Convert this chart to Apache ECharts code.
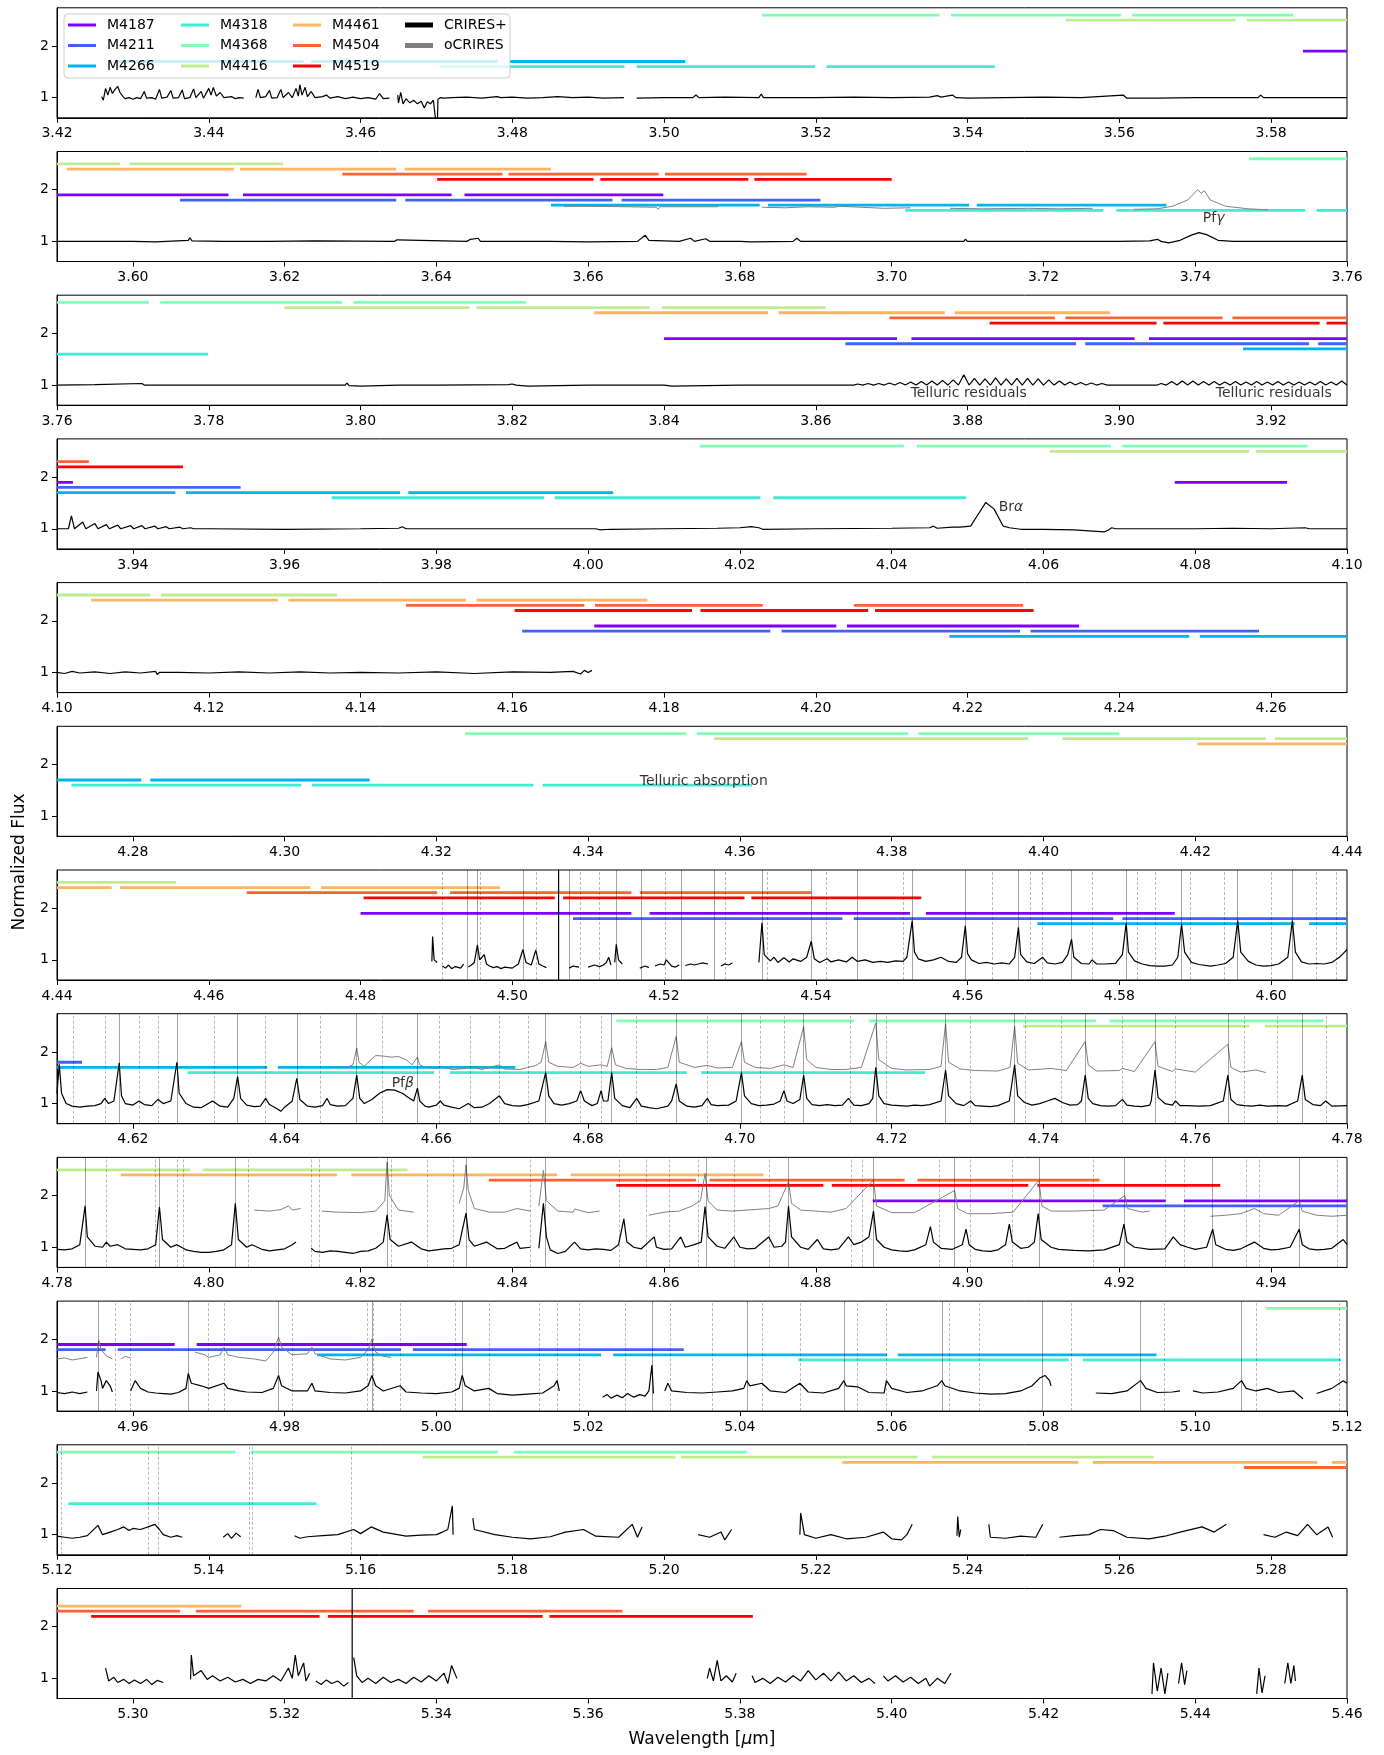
<!DOCTYPE html>
<html><head><meta charset="utf-8">
<script src="https://cdn.jsdelivr.net/npm/echarts@6/dist/echarts.min.js"></script>
<style>html,body{margin:0;padding:0;background:#fff}#chart{width:1384px;height:1755px}</style>
</head><body><div id="chart"></div><script>
const G = ['-', '-'];
const panelStarts = [3.42, 3.59, 3.76, 3.93, 4.10, 4.27, 4.44, 4.61, 4.78, 4.95, 5.12, 5.29];
const panelSpan = 0.17;
const tickLabels = [
  [3.42,3.44,3.46,3.48,3.50,3.52,3.54,3.56,3.58],
  [3.60,3.62,3.64,3.66,3.68,3.70,3.72,3.74,3.76],
  [3.76,3.78,3.80,3.82,3.84,3.86,3.88,3.90,3.92],
  [3.94,3.96,3.98,4.00,4.02,4.04,4.06,4.08,4.10],
  [4.10,4.12,4.14,4.16,4.18,4.20,4.22,4.24,4.26],
  [4.28,4.30,4.32,4.34,4.36,4.38,4.40,4.42,4.44],
  [4.44,4.46,4.48,4.50,4.52,4.54,4.56,4.58,4.60],
  [4.62,4.64,4.66,4.68,4.70,4.72,4.74,4.76,4.78],
  [4.78,4.80,4.82,4.84,4.86,4.88,4.90,4.92,4.94],
  [4.96,4.98,5.00,5.02,5.04,5.06,5.08,5.10,5.12],
  [5.12,5.14,5.16,5.18,5.20,5.22,5.24,5.26,5.28],
  [5.30,5.32,5.34,5.36,5.38,5.40,5.42,5.44,5.46]
];
const yTicks = [1, 2];

const settings = ['M4187','M4211','M4266','M4318','M4368','M4416','M4461','M4504','M4519'];
const settingColors = ['#8000ff','#4062fa','#00b4ec','#40ecd4','#80ffb4','#bfec8e','#ffb462','#ff6232','#ff0000'];
const settingLevels = [1.9, 1.8, 1.7, 1.6, 2.6, 2.5, 2.4, 2.3, 2.2];

const segM4187 = [[3.5842,3.6126],[3.6145,3.642],[3.6437,3.6699],[3.84,3.8707],[3.8726,3.902],[3.9039,3.9321],[4.0773,4.0921],[4.1708,4.2027],[4.2041,4.2347],[4.48,4.5157],[4.5181,4.5524],[4.5545,4.5873],[4.8875,4.9261],[4.9285,4.9655],[4.9684,5.004]];
const segM4211 = [[3.6062,3.6347],[3.6359,3.6632],[3.6644,3.6906],[3.8639,3.8943],[3.8955,3.925],[3.9262,3.9542],[4.1613,4.194],[4.1955,4.2269],[4.2283,4.2584],[4.508,4.5435],[4.545,4.5792],[4.5804,4.6133],[4.9178,4.9564],[4.958,4.9953],[4.9969,5.0326]];
const segM4266 = [[3.428,3.4525],[3.4535,3.4781],[3.4797,3.5028],[3.6551,3.6826],[3.6837,3.7102],[3.7112,3.7362],[3.9163,3.9456],[3.947,3.9752],[3.9763,4.0033],[4.2176,4.2492],[4.2506,4.2811],[4.2823,4.3112],[4.5692,4.6031],[4.605,4.6377],[4.6391,4.6704],[4.9843,5.0217],[5.0233,5.0594],[5.0608,5.0949]];
const segM4318 = [[3.4704,3.4948],[3.4964,3.5199],[3.5214,3.5436],[3.7018,3.7279],[3.7296,3.7545],[3.756,3.7799],[3.9662,3.9942],[3.9956,4.0227],[4.0244,4.0498],[4.2719,4.3022],[4.3036,4.3328],[4.334,4.3616],[4.6272,4.6597],[4.6618,4.693],[4.6949,4.7244],[5.0477,5.0833],[5.0852,5.1192],[5.1215,5.1542]];
const segM4368 = [[3.5129,3.5363],[3.5378,3.5602],[3.5617,3.5829],[3.7471,3.7721],[3.7736,3.7976],[3.7991,3.8218],[4.0147,4.0416],[4.0433,4.0689],[4.0704,4.0948],[4.3238,4.3529],[4.3543,4.3822],[4.3835,4.41],[4.6837,4.715],[4.717,4.7469],[4.7487,4.7769],[5.1093,5.1435],[5.1455,5.1781],[5.1802,5.2109]];
const segM4416 = [[3.5529,3.5753],[3.5768,3.5983],[3.5996,3.6198],[3.79,3.8144],[3.8153,3.8381],[3.8397,3.8613],[4.0608,4.0871],[4.088,4.1123],[4.1137,4.1369],[4.3566,4.398],[4.4025,4.4293],[4.4305,4.4557],[4.7373,4.7671],[4.7692,4.7975],[4.7992,4.8262],[5.1682,5.2015],[5.2022,5.2334],[5.2353,5.2645]];
const segM4461 = [[3.5913,3.6133],[3.6141,3.6347],[3.6358,3.6551],[3.8308,3.8537],[3.8551,3.877],[3.8783,3.8988],[4.1045,4.1291],[4.1305,4.1539],[4.1553,4.1778],[4.4203,4.4472],[4.4483,4.4734],[4.4748,4.4984],[4.7884,4.8169],[4.8188,4.8459],[4.8477,4.8731],[5.2235,5.2546],[5.2565,5.2861],[5.288,5.3143]];
const segM4504 = [[3.6276,3.6487],[3.6495,3.6693],[3.6701,3.6888],[3.8697,3.8915],[3.8929,3.9136],[3.9149,3.9342],[4.146,4.1695],[4.1709,4.193],[4.205,4.2273],[4.465,4.4901],[4.4918,4.5157],[4.5168,4.5394],[4.8369,4.8642],[4.866,4.8917],[4.8934,4.9174],[5.2764,5.3062],[5.3083,5.337],[5.3389,5.3645]];
const segM4519 = [[3.6401,3.6607],[3.6616,3.6811],[3.6819,3.7],[3.8829,3.9049],[3.9058,3.9264],[3.9273,3.9466],[4.1603,4.1837],[4.1848,4.2069],[4.2078,4.2287],[4.4804,4.5056],[4.5067,4.5306],[4.5315,4.5539],[4.8537,4.881],[4.8821,4.908],[4.9092,4.9333],[5.2945,5.3246],[5.3257,5.354],[5.3549,5.3817]];
const settingSegments = [segM4187, segM4211, segM4266, segM4318, segM4368, segM4416, segM4461, segM4504, segM4519];

const crires1 = [[3.4259,1.02],[3.4261,0.95],[3.4264,1.18],[3.4267,1.05],[3.427,1.2],[3.4273,1.08],[3.4276,1.15],[3.428,1.22],[3.4283,1.1],[3.4287,1.02],[3.429,0.98],[3.4295,1.0],[3.43,0.97],[3.4305,1.0],[3.431,0.98],[3.4315,1.12],[3.4318,0.99],[3.4325,1.0],[3.433,0.97],[3.4335,1.16],[3.4338,0.99],[3.4345,1.01],[3.435,1.14],[3.4353,0.99],[3.436,1.0],[3.4365,1.15],[3.4368,0.98],[3.4375,1.0],[3.438,1.17],[3.4383,1.0],[3.439,1.12],[3.4393,0.99],[3.44,1.18],[3.4403,1.05],[3.4406,1.2],[3.441,1.03],[3.4415,1.1],[3.442,1.0],[3.443,1.02],[3.4435,0.98],[3.444,1.0],[3.4446,0.99],G,
[3.4462,1.0],[3.4465,1.16],[3.4468,1.0],[3.4475,1.02],[3.448,1.14],[3.4483,0.99],[3.449,1.0],[3.4495,1.16],[3.4498,1.0],[3.4505,1.1],[3.451,1.0],[3.4515,1.18],[3.4518,1.03],[3.452,1.25],[3.4523,1.05],[3.4527,1.2],[3.453,1.02],[3.4535,1.12],[3.454,1.0],[3.455,1.02],[3.4555,1.05],[3.456,0.99],[3.457,1.02],[3.458,0.98],[3.459,1.01],[3.46,0.98],[3.461,1.0],[3.462,0.97],[3.4625,1.08],[3.463,0.98],[3.4638,0.99],G,
[3.4649,1.05],[3.465,0.9],[3.4653,1.1],[3.4656,0.88],[3.466,0.98],[3.4665,0.9],[3.467,0.95],[3.4675,0.88],[3.468,0.93],[3.4684,0.8],[3.4688,0.92],[3.4692,0.88],[3.4696,0.95],[3.4701,0.3],[3.4702,0.97],[3.4705,1.0],[3.471,0.99],[3.472,1.0],[3.474,1.01],[3.476,0.99],[3.478,1.02],[3.4785,1.0],[3.48,1.01],[3.482,0.99],[3.484,1.0],[3.486,1.02],[3.488,1.0],[3.49,1.01],[3.492,0.99],[3.4947,1.0],G,
[3.4964,0.99],[3.5,1.0],[3.5038,1.0],[3.5042,1.05],[3.5046,1.0],[3.508,1.01],[3.5125,1.0],[3.5128,1.07],[3.5131,1.0],[3.52,1.0],[3.525,1.01],[3.53,1.0],[3.535,1.01],[3.536,1.04],[3.5365,1.01],[3.538,1.05],[3.5385,1.0],[3.54,0.99],[3.545,1.0],[3.55,1.01],[3.555,1.0],[3.5605,1.05],[3.561,0.99],[3.565,0.99],[3.57,1.0],[3.5783,1.0],[3.5786,1.05],[3.579,1.0],[3.585,1.0],[3.59,1.0]];
const crires2 = [[3.59,1.0],[3.595,1.0],[3.6,1.0],[3.603,0.99],[3.6073,1.02],[3.6075,1.07],[3.6078,1.01],[3.612,1.0],[3.618,1.0],[3.624,1.01],[3.6345,1.0],[3.6348,1.03],[3.635,1.0],[3.644,1.0],[3.6445,1.04],[3.6455,1.06],[3.6458,1.0],[3.655,1.0],[3.66,0.99],[3.6665,1.0],[3.6675,1.12],[3.668,1.02],[3.672,1.0],[3.6735,1.06],[3.674,1.0],[3.6755,1.05],[3.676,1.0],[3.68,1.0],[3.6815,0.99],[3.687,1.0],[3.6875,1.06],[3.688,1.0],[3.695,1.0],[3.7,1.0],[3.7095,1.0],[3.7097,1.04],[3.71,1.0],[3.72,1.0],[3.73,1.0],[3.734,1.01],[3.735,1.04],[3.7355,1.0],[3.7365,0.97],[3.738,1.02],[3.7395,1.12],[3.7405,1.17],[3.7415,1.13],[3.743,1.02],[3.745,1.0],[3.7505,1.0],[3.7507,1.03],[3.751,1.0],[3.76,1.0]];
const crires3 = [[3.76,1.0],[3.765,1.01],[3.7712,1.03],[3.7715,1.0],[3.78,1.0],[3.79,1.0],[3.798,1.0],[3.7982,1.04],[3.7985,0.99],[3.8,0.98],[3.805,1.0],[3.81,1.0],[3.8195,1.01],[3.82,1.02],[3.8205,1.0],[3.822,0.98],[3.83,1.0],[3.84,1.0],[3.841,0.98],[3.85,1.0],[3.86,1.0],[3.865,1.0],
[3.8655,1.02],[3.8662,1.0],[3.8669,1.03],[3.8676,1.0],[3.8683,1.03],[3.869,1.0],[3.8697,1.04],[3.8704,1.0],[3.8711,1.05],[3.8718,1.0],[3.8725,1.06],[3.8732,1.0],[3.8739,1.07],[3.8746,1.0],[3.8753,1.08],[3.876,1.0],[3.8767,1.09],[3.8774,1.0],[3.8781,1.1],[3.8788,1.0],[3.8795,1.2],[3.8802,1.0],[3.8809,1.13],[3.8816,1.0],[3.8823,1.12],[3.883,1.0],[3.8837,1.14],[3.8844,1.0],[3.8851,1.12],[3.8858,1.0],[3.8865,1.13],[3.8872,1.0],[3.8879,1.13],[3.8886,1.0],[3.8893,1.12],[3.89,1.0],[3.8907,1.1],[3.8914,1.0],[3.8921,1.08],[3.8928,1.0],[3.8935,1.06],[3.8942,1.0],[3.8949,1.05],[3.8956,1.0],[3.8963,1.04],[3.897,1.0],[3.8977,1.03],[3.8984,1.0],[3.9,1.0],[3.905,1.0],
[3.9055,1.03],[3.9062,1.0],[3.9069,1.07],[3.9076,1.0],[3.9083,1.08],[3.909,1.0],[3.9097,1.08],[3.9104,1.0],[3.9111,1.07],[3.9118,1.0],[3.9125,1.07],[3.9132,1.0],[3.9139,1.06],[3.9146,1.0],[3.9153,1.07],[3.916,1.0],[3.9167,1.06],[3.9174,1.0],[3.9181,1.07],[3.9188,1.0],[3.9195,1.06],[3.9202,1.0],[3.9209,1.07],[3.9216,1.0],[3.9223,1.06],[3.923,1.0],[3.9237,1.06],[3.9244,1.0],[3.9251,1.06],[3.9258,1.0],[3.9265,1.07],[3.9272,1.0],[3.9279,1.06],[3.9286,1.0],[3.9293,1.08],[3.93,1.0]];
const crires4 = [[3.93,1.0],[3.9315,1.0],[3.9319,1.25],[3.9323,1.0],[3.9334,1.13],[3.9338,1.0],[3.935,1.1],[3.9354,1.0],[3.9365,1.08],[3.9369,1.0],[3.938,1.07],[3.9384,1.0],[3.9397,1.06],[3.9401,1.0],[3.9412,1.06],[3.9416,1.0],[3.9429,1.05],[3.9433,1.0],[3.9444,1.04],[3.9448,1.0],[3.9462,1.03],[3.9466,1.0],[3.9476,1.02],[3.948,1.0],[3.95,1.0],[3.96,0.99],[3.97,1.0],[3.975,1.01],[3.9755,1.04],[3.976,1.0],[3.985,1.0],[3.995,1.0],[4.001,1.0],[4.0015,0.98],[4.003,0.99],[4.01,1.0],[4.017,1.01],[4.02,1.02],[4.0215,1.04],[4.0225,1.02],[4.023,0.99],[4.03,1.0],[4.04,1.01],[4.045,1.02],[4.0455,1.05],[4.046,1.01],[4.048,1.03],[4.049,1.03],[4.0504,1.05],[4.0514,1.28],[4.0524,1.51],[4.0535,1.38],[4.0547,1.05],[4.0555,1.02],[4.057,0.99],[4.06,0.99],[4.064,0.98],[4.066,0.96],[4.068,0.94],[4.0685,0.97],[4.069,1.02],[4.0695,1.0],[4.075,1.0],[4.08,1.0],[4.085,1.01],[4.09,1.0],[4.0945,1.02],[4.095,1.0],[4.1,1.0]];
const crires5 = [[4.1,1.0],[4.101,0.98],[4.102,1.02],[4.103,0.99],[4.105,1.01],[4.107,0.98],[4.109,1.01],[4.111,0.99],[4.113,1.02],[4.1132,0.96],[4.1135,1.0],[4.116,1.0],[4.12,0.99],[4.124,1.01],[4.128,0.99],[4.132,1.01],[4.136,0.99],[4.14,1.0],[4.145,0.99],[4.15,1.01],[4.155,0.98],[4.16,1.01],[4.165,1.0],[4.168,1.02],[4.169,0.97],[4.1695,1.04],[4.17,1.0],[4.1705,1.04]];
const crires6 = [];
const crires7 = [[4.4894,0.97],[4.4895,1.45],[4.4897,1.0],[4.4901,0.95],G,
[4.4908,0.88],[4.4912,0.84],[4.4916,0.9],[4.492,0.83],[4.4925,0.87],[4.4932,0.84],[4.4936,0.92],G,
[4.4942,0.86],[4.4946,0.9],[4.495,0.95],[4.4954,1.29],[4.4957,1.0],[4.4963,1.1],[4.4966,0.92],[4.497,0.88],[4.4975,0.85],[4.498,0.87],[4.4985,0.83],[4.499,0.86],[4.5,0.84],[4.5008,0.92],[4.5014,1.2],[4.5018,0.95],[4.5025,0.9],[4.5031,1.19],[4.5035,0.92],[4.504,0.88],[4.5045,0.85],G,
[4.5061,0.3],[4.5061,3.0],G,
[4.5075,0.84],[4.508,0.88],[4.5088,0.86],G,
[4.51,0.86],[4.5108,0.9],[4.5115,0.87],[4.512,0.9],[4.5124,0.95],[4.5127,1.05],[4.513,0.9],G,
[4.5135,0.95],[4.5137,1.3],[4.514,1.0],[4.5145,0.92],G,
[4.5168,0.84],[4.5175,0.88],[4.518,0.85],G,
[4.5188,0.88],[4.5195,0.92],[4.52,0.9],[4.5203,1.0],[4.521,0.88],[4.5215,0.86],[4.522,0.9],G,
[4.5228,0.89],[4.5235,0.92],[4.524,0.9],[4.525,0.94],[4.5258,0.92],G,
[4.5275,0.88],[4.528,0.92],[4.5285,0.9],[4.529,0.94],G,
[4.5325,0.95],[4.5329,1.72],[4.5332,1.1],[4.534,0.98],[4.5345,1.05],[4.535,0.95],[4.5358,1.04],[4.5365,0.96],[4.537,1.02],[4.538,0.97],[4.5388,1.05],[4.5394,1.36],[4.5398,1.02],[4.5405,0.95],[4.5415,1.02],[4.542,0.96],[4.543,1.0],[4.544,0.96],[4.5448,1.05],[4.5455,0.97],[4.5465,1.0],[4.5475,0.95],[4.5485,0.97],[4.5495,0.95],[4.5505,0.98],[4.5515,0.97],[4.552,1.05],[4.5527,1.76],[4.553,1.15],[4.5535,1.02],[4.5545,0.97],[4.5555,1.0],[4.5565,1.05],[4.5575,0.97],[4.5585,0.95],[4.5592,1.05],[4.5597,1.66],[4.56,1.12],[4.5605,1.0],[4.5615,0.93],[4.5625,0.95],[4.5635,0.92],[4.5645,0.94],[4.5655,0.92],[4.5662,1.05],[4.5667,1.63],[4.567,1.1],[4.5678,0.96],[4.5688,0.93],[4.5699,1.05],[4.5705,0.94],[4.5715,0.92],[4.5725,0.95],[4.5732,1.1],[4.5737,1.4],[4.574,1.05],[4.575,0.93],[4.576,0.92],[4.5764,1.0],[4.577,0.92],[4.578,0.92],[4.5795,0.93],[4.5804,1.1],[4.5809,1.71],[4.5812,1.15],[4.582,0.98],[4.583,0.92],[4.584,0.89],[4.585,0.88],[4.586,0.88],[4.587,0.9],[4.5877,1.05],[4.5882,1.69],[4.5886,1.15],[4.5895,0.95],[4.5905,0.91],[4.592,0.88],[4.593,0.9],[4.594,0.93],[4.595,1.05],[4.5956,1.76],[4.596,1.15],[4.597,0.97],[4.598,0.9],[4.599,0.88],[4.6,0.89],[4.601,0.92],[4.6022,1.05],[4.6028,1.76],[4.6032,1.15],[4.604,0.96],[4.605,0.92],[4.606,0.93],[4.607,0.92],[4.608,0.95],[4.609,1.05],[4.6095,1.12],[4.61,1.2]];
const crires8 = [[4.61,1.2],[4.6103,1.76],[4.6106,1.2],[4.6112,1.0],[4.612,0.95],[4.613,0.93],[4.614,0.95],[4.615,0.96],[4.6158,1.0],[4.6163,1.1],[4.6168,1.0],[4.6175,1.05],[4.6182,1.79],[4.6185,1.15],[4.619,1.0],[4.62,0.97],[4.6208,1.05],[4.6215,0.98],[4.6225,0.96],[4.6233,1.08],[4.624,1.0],[4.625,1.05],[4.6258,1.8],[4.6261,1.2],[4.627,1.0],[4.628,0.93],[4.629,0.92],[4.6305,1.05],[4.6315,0.95],[4.6325,0.93],[4.6333,1.1],[4.6338,1.52],[4.6342,1.1],[4.635,0.97],[4.636,0.94],[4.6368,0.95],[4.6375,1.1],[4.638,0.98],[4.639,0.9],[4.6395,0.85],[4.64,0.93],[4.641,1.05],[4.6416,1.49],[4.642,1.08],[4.643,0.95],[4.644,0.93],[4.645,0.96],[4.6456,1.1],[4.646,0.98],[4.647,0.95],[4.648,0.96],[4.649,1.1],[4.6495,1.55],[4.6499,1.1],[4.6505,1.0],[4.6515,1.08],[4.6525,1.2],[4.6535,1.27],[4.6545,1.26],[4.6555,1.2],[4.6565,1.1],[4.657,1.05],[4.6575,1.3],[4.6578,1.05],[4.6585,0.95],[4.659,0.93],[4.66,0.97],[4.6605,1.05],[4.661,0.97],[4.662,0.93],[4.663,0.9],[4.6642,1.0],[4.665,0.92],[4.666,0.93],[4.667,1.0],[4.6683,1.15],[4.669,1.0],[4.67,0.96],[4.671,0.95],[4.672,0.98],[4.6735,1.05],[4.6744,1.6],[4.6748,1.15],[4.6755,1.0],[4.6765,0.97],[4.6775,1.0],[4.6785,1.05],[4.679,1.25],[4.6795,1.05],[4.6805,0.96],[4.6812,1.0],[4.6817,1.25],[4.682,1.05],[4.6826,1.05],[4.6831,1.6],[4.6835,1.1],[4.6845,0.96],[4.6855,0.92],[4.6864,1.1],[4.687,0.95],[4.688,0.92],[4.689,0.9],[4.6905,0.95],[4.691,1.05],[4.6916,1.38],[4.692,1.05],[4.693,0.95],[4.694,0.93],[4.695,0.96],[4.6957,1.1],[4.6962,0.98],[4.697,0.96],[4.6985,0.97],[4.6995,1.05],[4.7002,1.6],[4.7006,1.15],[4.7015,1.0],[4.7025,0.96],[4.7035,0.97],[4.7045,0.99],[4.7053,1.05],[4.7058,1.25],[4.7062,1.05],[4.707,1.0],[4.7079,1.08],[4.7084,1.55],[4.7088,1.1],[4.7095,0.98],[4.7105,0.96],[4.7115,0.98],[4.7125,0.96],[4.7135,0.97],[4.7143,1.1],[4.715,0.97],[4.716,0.96],[4.717,1.0],[4.7175,1.1],[4.7179,1.7],[4.7183,1.15],[4.719,1.0],[4.72,0.97],[4.721,0.96],[4.722,0.95],[4.723,0.97],[4.724,0.96],[4.725,0.98],[4.7265,1.05],[4.7271,1.65],[4.7275,1.15],[4.7285,1.0],[4.7295,0.96],[4.7304,1.05],[4.731,0.96],[4.732,0.95],[4.733,0.94],[4.734,0.96],[4.7355,1.05],[4.7362,1.75],[4.7366,1.15],[4.7375,1.02],[4.7385,0.97],[4.7395,1.0],[4.7405,1.05],[4.7415,1.1],[4.7425,1.02],[4.7435,0.97],[4.7445,0.98],[4.745,1.05],[4.7455,1.55],[4.7459,1.1],[4.7465,1.0],[4.7475,0.96],[4.7485,0.95],[4.7495,0.96],[4.7504,1.08],[4.751,0.97],[4.752,0.95],[4.753,0.94],[4.754,0.97],[4.7542,1.05],[4.7547,1.65],[4.7551,1.12],[4.756,1.0],[4.757,0.97],[4.7574,1.05],[4.758,0.96],[4.759,0.96],[4.7605,0.95],[4.762,0.96],[4.7637,1.05],[4.7643,1.55],[4.7647,1.08],[4.7655,0.98],[4.7665,0.96],[4.7675,0.95],[4.7685,0.97],[4.7695,0.95],[4.771,0.96],[4.772,0.95],[4.7735,1.05],[4.7741,1.55],[4.7745,1.08],[4.7755,0.98],[4.7765,0.96],[4.7772,1.05],[4.778,0.95],[4.78,0.96]];
const crires9 = [[4.78,0.96],[4.781,0.95],[4.782,0.97],[4.783,1.05],[4.7837,1.8],[4.784,1.2],[4.785,1.02],[4.786,1.0],[4.7865,1.1],[4.787,1.02],[4.788,1.05],[4.789,0.97],[4.79,0.96],[4.791,0.95],[4.792,0.97],[4.793,1.05],[4.7935,1.78],[4.7939,1.15],[4.795,1.0],[4.7958,1.05],[4.797,0.95],[4.798,0.92],[4.799,0.9],[4.8,0.9],[4.801,0.92],[4.802,0.95],[4.803,1.05],[4.8035,1.85],[4.8039,1.15],[4.805,1.0],[4.8057,1.05],[4.807,0.96],[4.808,0.93],[4.809,0.95],[4.81,0.97],[4.811,1.05],[4.8115,1.1],G,
[4.8135,0.98],[4.814,0.92],[4.815,0.9],[4.816,0.93],[4.817,0.92],[4.818,0.9],[4.819,0.88],[4.82,0.92],[4.821,0.93],[4.822,0.98],[4.823,1.1],[4.8235,1.63],[4.8239,1.15],[4.825,1.02],[4.8267,1.1],[4.828,0.97],[4.829,0.93],[4.83,0.95],[4.831,0.97],[4.832,0.98],[4.833,1.05],[4.8339,1.66],[4.8343,1.15],[4.835,1.02],[4.8366,1.1],[4.838,0.97],[4.839,0.98],[4.8406,1.1],[4.841,0.98],[4.8424,1.0],G,
[4.8435,0.98],[4.8441,1.85],[4.8445,1.2],[4.845,0.95],[4.846,0.88],[4.847,0.92],[4.8482,1.1],[4.849,0.97],[4.85,0.95],[4.851,0.97],[4.852,0.96],[4.853,0.94],[4.854,1.05],[4.8547,1.55],[4.8551,1.1],[4.856,1.0],[4.857,0.97],[4.8587,1.2],[4.859,1.0],[4.86,0.96],[4.861,0.97],[4.8622,1.2],[4.8628,1.0],[4.864,1.05],[4.8649,1.1],[4.8654,1.79],[4.8658,1.2],[4.867,1.02],[4.868,0.98],[4.8692,1.2],[4.87,1.0],[4.871,0.97],[4.872,0.98],[4.8738,1.2],[4.8745,1.0],[4.8755,1.02],[4.876,1.1],[4.8764,1.8],[4.8768,1.2],[4.878,1.0],[4.879,0.96],[4.8802,1.15],[4.881,0.97],[4.882,0.95],[4.883,0.97],[4.8843,1.2],[4.885,1.05],[4.886,1.1],[4.887,1.2],[4.8876,1.7],[4.888,1.15],[4.889,1.0],[4.89,0.95],[4.891,0.93],[4.892,0.92],[4.893,0.95],[4.8945,1.05],[4.8951,1.4],[4.8955,1.1],[4.8965,0.98],[4.898,0.96],[4.8993,1.05],[4.8998,1.35],[4.9002,1.05],[4.901,0.96],[4.902,0.93],[4.903,0.92],[4.904,0.95],[4.905,1.05],[4.9055,1.45],[4.9059,1.1],[4.907,0.98],[4.908,1.0],[4.9088,1.1],[4.9093,1.65],[4.9097,1.15],[4.911,1.0],[4.912,0.96],[4.914,0.94],[4.916,0.93],[4.918,0.95],[4.92,1.05],[4.9206,1.45],[4.921,1.1],[4.922,1.0],[4.924,0.96],[4.926,0.97],[4.9271,1.2],[4.928,1.05],[4.929,1.0],[4.93,0.96],[4.9315,1.0],[4.9323,1.35],[4.9327,1.05],[4.934,0.96],[4.935,0.94],[4.936,0.97],[4.9378,1.1],[4.939,0.98],[4.94,0.95],[4.941,0.96],[4.9425,1.0],[4.9437,1.35],[4.9441,1.05],[4.945,0.97],[4.946,0.95],[4.947,0.96],[4.948,0.98],[4.9495,1.15],[4.95,1.05]];
const crires10 = [[4.95,0.97],[4.951,0.95],[4.952,0.98],[4.953,0.95],[4.954,0.98],G,
[4.9552,1.0],[4.9554,1.37],[4.9558,1.2],[4.956,1.05],[4.9565,1.2],[4.957,1.1],[4.9573,0.98],G,
[4.9597,1.0],[4.9603,1.2],[4.961,1.05],[4.962,0.98],[4.963,0.96],[4.964,0.95],[4.965,0.94],[4.966,0.97],[4.967,1.05],[4.9673,1.34],[4.9677,1.15],[4.969,1.1],[4.97,1.05],[4.972,1.15],[4.9725,1.05],[4.974,1.0],[4.975,0.98],[4.977,0.97],[4.9785,1.05],[4.9792,1.3],[4.9796,1.1],[4.981,1.0],[4.983,1.0],[4.9836,1.15],[4.984,1.0],[4.986,0.97],[4.988,0.96],[4.99,1.0],[4.991,1.1],[4.9915,1.3],[4.992,1.1],[4.993,1.0],[4.9952,1.1],[4.996,0.98],[4.998,0.96],[5.0,0.95],[5.002,0.98],[5.003,1.05],[5.0034,1.3],[5.0038,1.1],[5.005,1.0],[5.0069,1.05],[5.008,0.95],[5.01,0.92],[5.012,0.94],[5.014,0.96],[5.0155,1.1],[5.0159,1.2],[5.0162,1.0],G,
[5.0219,0.88],[5.0225,0.93],[5.023,0.86],[5.0238,0.92],[5.0245,0.87],[5.0252,0.95],[5.026,0.88],[5.0268,0.93],[5.0275,0.9],[5.028,1.0],[5.0284,1.5],[5.0286,0.95],G,
[5.0301,1.0],[5.0305,1.15],[5.031,1.0],[5.033,0.97],[5.035,0.96],[5.037,0.98],[5.039,1.0],[5.0405,1.05],[5.0409,1.2],[5.0413,1.1],[5.0429,1.15],[5.044,1.0],[5.046,0.97],[5.0479,1.15],[5.049,0.98],[5.051,0.96],[5.053,1.05],[5.0537,1.2],[5.054,1.1],[5.0555,1.08],[5.057,0.97],[5.059,0.96],[5.0593,1.2],[5.06,1.05],[5.062,0.97],[5.064,1.0],[5.066,1.1],[5.0666,1.2],[5.067,1.1],[5.069,1.0],[5.071,0.96],[5.073,0.94],[5.075,0.95],[5.077,1.0],[5.0785,1.1],[5.0795,1.25],[5.0802,1.3],[5.0808,1.2],[5.081,1.1],G,
[5.0869,0.96],[5.089,0.95],[5.091,1.0],[5.0928,1.2],[5.0935,1.05],[5.095,0.97],[5.097,0.98],[5.098,1.0],G,
[5.0997,1.0],[5.101,0.96],[5.103,0.98],[5.105,1.05],[5.1061,1.2],[5.1067,1.05],[5.108,1.0],[5.1095,1.05],[5.111,0.97],[5.113,1.0],[5.1142,0.85],G,
[5.116,0.95],[5.118,1.05],[5.1195,1.2],[5.12,1.15]];
const crires11 = [[5.12,0.97],[5.121,0.95],[5.122,0.93],[5.123,0.95],[5.124,0.98],[5.1254,1.18],[5.126,1.0],[5.127,1.05],[5.128,1.1],[5.1288,1.15],[5.1295,1.08],[5.13,1.12],[5.131,1.1],[5.132,1.15],[5.1329,1.2],[5.1335,1.1],[5.134,1.0],[5.135,0.95],[5.1358,0.98],[5.1365,0.95],G,
[5.1419,0.95],[5.1425,1.02],[5.143,0.93],[5.1436,1.03],[5.1442,0.96],G,
[5.1513,0.98],[5.152,0.93],[5.153,0.96],[5.155,0.98],[5.157,1.0],[5.1591,1.1],[5.16,1.02],[5.1614,1.15],[5.163,1.05],[5.1649,1.0],[5.166,0.97],[5.168,0.99],[5.17,1.0],[5.1708,1.05],[5.1715,1.1],[5.1721,1.56],[5.1722,1.0],G,
[5.1748,1.32],[5.175,1.1],[5.1777,1.0],[5.18,0.95],[5.1824,0.92],[5.185,0.96],[5.187,1.05],[5.1894,1.1],[5.191,0.97],[5.194,0.95],[5.1958,1.2],[5.1965,0.95],[5.1971,1.15],G,
[5.2045,1.0],[5.206,0.95],[5.2075,1.05],[5.208,0.9],[5.2089,1.1],G,
[5.2179,1.0],[5.218,1.42],[5.2185,1.0],[5.22,0.93],[5.222,1.0],[5.224,0.92],[5.2266,0.95],[5.2289,1.05],[5.23,0.92],[5.2313,0.9],[5.232,1.0],[5.2327,1.2],G,
[5.2386,0.98],[5.2387,1.35],[5.2389,0.95],[5.2391,1.1],G,
[5.2428,1.2],[5.243,0.95],[5.245,0.93],[5.247,0.97],[5.249,0.95],[5.2499,1.2],G,
[5.2521,0.95],[5.254,0.98],[5.256,1.0],[5.2575,1.1],[5.2592,1.08],[5.261,0.95],[5.2639,0.92],[5.266,0.97],[5.268,1.05],[5.2709,1.15],[5.2725,1.05],[5.2741,1.2],G,
[5.279,1.0],[5.2805,0.95],[5.282,1.05],[5.2835,0.98],[5.2848,1.2],[5.286,1.0],[5.2875,1.15],[5.2881,0.95]];
const crires12 = [[5.2964,1.2],[5.2968,0.95],[5.2975,1.02],[5.298,0.92],[5.2988,0.98],[5.2995,0.9],[5.3002,0.97],[5.301,0.9],[5.3018,0.98],[5.3025,0.88],[5.3032,0.96],[5.304,0.92],G,
[5.3076,0.98],[5.3077,1.45],[5.308,1.05],[5.309,1.15],[5.3098,0.98],[5.3105,1.05],[5.3115,0.95],[5.3125,1.02],[5.3135,0.93],[5.3145,0.98],[5.3155,0.9],[5.3165,0.98],[5.3175,0.95],[5.3185,1.05],[5.3195,0.95],[5.3205,1.2],[5.321,1.0],[5.3214,1.45],[5.3218,1.05],[5.3225,1.3],[5.3228,0.95],[5.3233,1.1],G,
[5.3241,0.95],[5.3248,0.88],[5.3255,0.97],[5.3262,0.9],[5.327,0.95],[5.3278,0.85],[5.3284,0.92],G,
[5.3289,0.3],[5.3289,3.0],G,
[5.3291,1.4],[5.3295,1.05],[5.3302,0.92],[5.331,1.0],[5.332,0.9],[5.333,1.02],[5.334,0.92],[5.335,0.98],[5.336,0.9],[5.337,1.02],[5.338,0.93],[5.339,1.05],[5.34,0.95],[5.341,1.1],[5.3415,0.9],[5.342,1.25],[5.3427,1.0],G,
[5.3757,1.0],[5.376,1.2],[5.3765,0.95],[5.377,1.35],[5.3775,0.95],[5.3782,1.05],[5.379,0.93],[5.3795,1.1],G,
[5.3816,1.05],[5.382,0.92],[5.383,1.0],[5.384,0.9],[5.385,1.02],[5.386,0.93],[5.387,1.05],[5.388,0.95],[5.389,1.15],[5.39,0.97],[5.391,1.1],[5.392,0.95],[5.393,1.12],[5.394,0.95],[5.395,1.05],[5.396,0.92],[5.397,1.0],[5.3978,0.9],G,
[5.3989,1.05],[5.3995,0.95],[5.4005,1.05],[5.4015,0.93],[5.4025,1.02],[5.4035,0.9],[5.4045,1.0],[5.405,0.85],[5.406,1.0],[5.407,0.9],[5.4078,1.1],G,
[5.4343,0.7],[5.4345,1.3],[5.435,0.75],[5.4355,1.2],[5.436,0.7],[5.4364,1.1],G,
[5.4378,0.9],[5.4382,1.3],[5.4386,0.88],[5.4389,1.15],G,
[5.4481,0.7],[5.4484,1.2],[5.4488,0.72],[5.4492,1.05],G,
[5.4518,0.9],[5.4522,1.3],[5.4526,0.9],[5.453,1.25],[5.4532,0.95]];
const crires = [crires1, crires2, crires3, crires4, crires5, crires6, crires7, crires8, crires9, crires10, crires11, crires12];

const ocrires2 = [[3.6568,1.68],[3.66,1.68],[3.665,1.67],[3.669,1.66],[3.6692,1.62],[3.6695,1.67],[3.673,1.67],[3.6771,1.67],G,
[3.6829,1.66],[3.686,1.65],[3.689,1.67],[3.6925,1.66],[3.693,1.68],[3.696,1.66],[3.699,1.64],[3.7025,1.65],G,
[3.7077,1.64],[3.712,1.63],[3.718,1.64],[3.722,1.63],[3.7265,1.64],G,
[3.7319,1.62],[3.735,1.63],[3.737,1.68],[3.739,1.8],[3.7398,1.92],[3.7403,2.0],[3.7408,1.93],[3.7412,1.98],[3.742,1.8],[3.744,1.68],[3.747,1.63],[3.7496,1.61]];
const ocrires8 = [[4.6462,1.7],[4.647,1.7],[4.648,1.69],[4.649,1.75],[4.6495,2.07],[4.6498,1.8],[4.6505,1.72],[4.651,1.8],[4.652,1.93],[4.653,1.92],[4.654,1.9],[4.655,1.91],[4.656,1.85],[4.6568,1.75],[4.6575,1.9],[4.6578,1.75],[4.6585,1.7],[4.66,1.68],[4.6605,1.72],[4.662,1.66],[4.664,1.68],[4.6642,1.72],[4.666,1.66],[4.6683,1.75],[4.669,1.67],[4.671,1.66],[4.672,1.7],[4.673,1.73],[4.6738,1.8],[4.6744,2.2],[4.6748,1.8],[4.676,1.72],[4.678,1.7],[4.679,1.78],[4.68,1.72],[4.6817,1.75],[4.6825,1.72],[4.6831,2.08],[4.6836,1.75],[4.685,1.68],[4.687,1.66],[4.689,1.66],[4.6905,1.7],[4.6916,2.3],[4.692,1.8],[4.694,1.7],[4.6957,1.74],[4.697,1.69],[4.699,1.7],[4.7002,2.2],[4.7006,1.8],[4.702,1.7],[4.704,1.68],[4.7058,1.75],[4.707,1.7],[4.7084,2.49],[4.7088,1.85],[4.71,1.7],[4.712,1.66],[4.714,1.66],[4.716,1.7],[4.7179,2.56],[4.7183,1.85],[4.72,1.68],[4.722,1.65],[4.725,1.66],[4.7265,1.72],[4.7271,2.55],[4.7275,1.8],[4.729,1.67],[4.731,1.64],[4.734,1.63],[4.7356,1.7],[4.7362,2.5],[4.7366,1.78],[4.738,1.65],[4.741,1.68],[4.743,1.64],[4.7455,2.2],[4.7459,1.75],[4.747,1.63],[4.75,1.64],[4.7504,1.68],[4.752,1.62],[4.7547,2.2],[4.7551,1.72],[4.757,1.62],[4.7574,1.67],[4.76,1.61],[4.7643,2.15],[4.7647,1.7],[4.766,1.61],[4.768,1.65],[4.7693,1.6]];
const ocrires9 = [[4.806,1.72],[4.808,1.7],[4.8095,1.73],[4.8105,1.8],[4.811,1.72],[4.8121,1.75],G,
[4.8149,1.7],[4.817,1.68],[4.82,1.67],[4.822,1.7],[4.8232,1.9],[4.8235,2.65],[4.8238,2.0],[4.825,1.72],[4.827,1.68],G,
[4.833,1.85],[4.8336,2.15],[4.8339,2.6],[4.8342,2.1],[4.835,1.75],[4.837,1.68],[4.839,1.68],[4.8406,1.75],[4.8424,1.7],G,
[4.8435,1.8],[4.8441,2.49],[4.8445,1.9],[4.846,1.7],[4.848,1.68],[4.8482,1.74],[4.85,1.67],[4.8515,1.7],G,
[4.858,1.62],[4.86,1.68],[4.862,1.7],[4.8637,1.8],[4.8648,1.9],[4.8654,2.43],[4.8658,1.9],[4.867,1.72],[4.869,1.7],[4.8738,1.75],[4.875,1.8],[4.8764,2.27],[4.8768,1.85],[4.878,1.72],[4.88,1.7],[4.882,1.68],[4.884,1.75],[4.8843,1.8],[4.8876,2.3],[4.888,1.8],[4.89,1.67],[4.893,1.67],[4.8983,2.1],[4.8987,1.75],[4.9,1.65],[4.903,1.65],[4.906,1.68],[4.9094,2.3],[4.9098,1.8],[4.911,1.7],[4.914,1.7],[4.918,1.72],[4.9207,2.0],[4.9211,1.75],[4.923,1.68],[4.924,1.7],G,
[4.932,1.6],[4.934,1.62],[4.936,1.65],[4.9378,1.75],[4.939,1.65],[4.941,1.62],[4.9437,1.9],[4.9441,1.7],[4.946,1.62],[4.948,1.6],[4.95,1.62]];
const ocrires10 = [[4.95,1.62],[4.951,1.64],[4.952,1.6],[4.954,1.65],G,
[4.9552,1.65],[4.9555,1.98],[4.9558,1.8],[4.9565,1.68],[4.9573,1.62],G,
[4.9584,1.62],[4.959,1.67],[4.9597,1.64],G,
[4.9682,1.75],[4.9695,1.7],[4.97,1.65],[4.9715,1.7],[4.972,1.85],[4.9725,1.7],[4.974,1.65],[4.976,1.62],[4.9775,1.58],[4.9785,1.75],[4.9792,2.04],[4.9796,1.85],[4.981,1.7],[4.983,1.72],[4.9836,1.85],[4.984,1.72],[4.986,1.62],[4.988,1.6],[4.99,1.65],[4.991,1.8],[4.9915,2.0],[4.992,1.75],[4.993,1.67],[4.994,1.65]];
const ocrires = [[], ocrires2, [], [], [], [], [], ocrires8, ocrires9, ocrires10, [], []];

const linesSolid = [4.4940,4.4954,4.5014,4.5075,4.5137,4.5170,4.5222,4.5266,4.5329,4.5394,4.5455,4.5527,4.5597,4.5667,4.5737,4.5809,4.5882,4.5956,4.6028,4.6182,4.6258,4.6338,4.6416,4.6495,4.6575,4.6744,4.6831,4.6916,4.7002,4.7084,4.7179,4.7271,4.7362,4.7455,4.7547,4.7643,4.7741,4.7837,4.7935,4.8035,4.8235,4.8339,4.8444,4.8655,4.8764,4.8876,4.8983,4.9094,4.9207,4.9323,4.9437,4.9554,4.9673,4.9792,4.9915,5.0034,5.0284,5.0409,5.0537,5.0666,5.0799,5.0928,5.1061];
const linesDashed = [4.4908,4.4958,4.5031,4.5089,4.5115,4.5201,4.5280,4.5336,4.5414,4.5515,4.5632,4.5682,4.5699,4.5764,4.5824,4.5847,4.5894,4.5938,4.6000,4.6060,4.6086,4.6121,4.6163,4.6208,4.6233,4.6307,4.6375,4.6447,4.6528,4.6604,4.6644,4.6683,4.6721,4.6790,4.6817,4.6864,4.6957,4.7027,4.7058,4.7146,4.7193,4.7304,4.7376,4.7423,4.7504,4.7574,4.7665,4.7708,4.7772,4.7865,4.7929,4.7958,4.7967,4.8052,4.8135,4.8145,4.8241,4.8288,4.8322,4.8424,4.8541,4.8576,4.8607,4.8645,4.8692,4.8739,4.8847,4.8861,4.8963,4.9003,4.9059,4.9166,4.9260,4.9286,4.9367,4.9385,4.9487,4.9577,4.9597,4.9699,4.9720,4.9810,4.9909,4.9917,4.9952,5.0025,5.0069,5.0136,5.0159,5.0188,5.0249,5.0308,5.0363,5.0429,5.0479,5.0555,5.0593,5.0676,5.0716,5.0837,5.0959,5.1081,5.1190,5.1205,5.1320,5.1333,5.1453,5.1457,5.1588];

const annoX = [3.741, 3.8725, 3.9127, 4.0541, 4.3468, 4.6541];
const annoY = [1.44, 0.83, 0.83, 1.42, 1.68, 1.39];
const annoText = ['Pf{g|γ}', 'Telluric residuals', 'Telluric residuals', 'Br{g|α}', 'Telluric absorption', 'Pf{g|β}'];

const FONT = 'DejaVu Sans';
const chart = echarts.init(document.getElementById('chart'), null, {renderer: 'canvas'});

const grids = [], xAxes = [], yAxes = [], series = [];
panelStarts.forEach((lo, i) => {
  const hi = +(lo + panelSpan).toFixed(2);
  grids.push({left: 57, right: 37, top: 7.8 + i * 143.7, height: 110, show: true, borderColor: '#000', borderWidth: 1, backgroundColor: 'transparent'});
  xAxes.push({type: 'value', gridIndex: i, min: lo, max: hi,
    axisLine: {show: true, onZero: false, lineStyle: {color: '#000', width: 1}},
    axisTick: {show: true, customValues: tickLabels[i], length: 5, lineStyle: {color: '#000', width: 1}},
    axisLabel: {show: true, customValues: tickLabels[i], formatter: v => v.toFixed(2), fontSize: 14, fontFamily: FONT, color: '#000', margin: 9},
    splitLine: {show: false}});
  yAxes.push({type: 'value', gridIndex: i, min: 0.61, max: 2.74,
    axisLine: {show: true, onZero: false, lineStyle: {color: '#000', width: 1}},
    axisTick: {show: true, customValues: yTicks, length: 5, lineStyle: {color: '#000', width: 1}},
    axisLabel: {show: true, customValues: yTicks, formatter: v => String(v), fontSize: 14, fontFamily: FONT, color: '#000', margin: 8},
    splitLine: {show: false}});

  const sol = linesSolid.filter(v => v >= lo && v <= hi).map(v => ({xAxis: v}));
  const das = linesDashed.filter(v => v >= lo && v <= hi).map(v => ({xAxis: v}));
  series.push({type: 'line', name: 'vsolid', xAxisIndex: i, yAxisIndex: i, data: [[lo, '-']], symbol: 'none', silent: true, z: 1,
    lineStyle: {width: 0},
    markLine: {silent: true, precision: 6, symbol: ['none', 'none'], label: {show: false}, animation: false,
      lineStyle: {color: '#000', width: 0.8, type: 'solid', opacity: 0.45}, data: sol}});
  series.push({type: 'line', name: 'vdashed', xAxisIndex: i, yAxisIndex: i, data: [[lo, '-']], symbol: 'none', silent: true, z: 1,
    lineStyle: {width: 0},
    markLine: {silent: true, precision: 6, symbol: ['none', 'none'], label: {show: false}, animation: false,
      lineStyle: {color: '#000', width: 0.8, type: [3, 2], opacity: 0.35}, data: das}});

  settings.forEach((name, k) => {
    const data = [];
    settingSegments[k].forEach(([s, e]) => {
      if (e < lo || s > hi) return;
      const a = Math.max(s, lo), b = Math.min(e, hi);
      data.push([a, settingLevels[k]], [b, settingLevels[k]], ['-', '-']);
    });
    series.push({type: 'line', name, xAxisIndex: i, yAxisIndex: i, data, symbol: 'none', silent: true, z: 3,
      lineStyle: {color: settingColors[k], width: 2.8}, itemStyle: {color: settingColors[k]}});
  });

  series.push({type: 'line', name: 'oCRIRES', xAxisIndex: i, yAxisIndex: i, data: ocrires[i], symbol: 'none', silent: true, z: 4,
    lineStyle: {color: '#808080', width: 1}, itemStyle: {color: '#808080'}});
  series.push({type: 'line', name: 'CRIRES+', xAxisIndex: i, yAxisIndex: i, data: crires[i], symbol: 'none', silent: true, z: 5,
    lineStyle: {color: '#000', width: 1.2}, itemStyle: {color: '#000'}});

  const ann = [];
  annoX.forEach((x, k) => { if (x >= lo && x < hi) ann.push({value: [x, annoY[k]], txt: annoText[k]}); });
  series.push({type: 'scatter', name: 'anno', xAxisIndex: i, yAxisIndex: i, data: ann, symbolSize: 0, silent: true, z: 6,
    label: {show: true, position: 'right', distance: 0, formatter: p => p.data.txt, fontSize: 14, fontFamily: FONT, color: '#000',
      rich: {g: {fontSize: 14, fontFamily: FONT, fontStyle: 'italic', color: '#000'}}}});
});

const legBase = {orient: 'vertical', itemWidth: 28, itemHeight: 3, itemGap: 4.5, icon: 'rect', padding: 0, z: 20, selectedMode: false,
  textStyle: {fontSize: 14, fontFamily: FONT, color: '#000', lineHeight: 16, padding: [0, 0, 0, 6]}};
const legends = [
  Object.assign({}, legBase, {data: ['M4187', 'M4211', 'M4266'], left: 68, top: 17}),
  Object.assign({}, legBase, {data: ['M4318', 'M4368', 'M4416'], left: 181, top: 17}),
  Object.assign({}, legBase, {data: ['M4461', 'M4504', 'M4519'], left: 293, top: 17}),
  Object.assign({}, legBase, {data: ['CRIRES+', 'oCRIRES'], left: 405, top: 17, itemHeight: 5})
];

chart.setOption({
  animation: false,
  backgroundColor: '#fff',
  grid: grids, xAxis: xAxes, yAxis: yAxes, series,
  legend: legends,
  graphic: [
    {type: 'rect', z: 15, shape: {x: 64, y: 14, width: 446, height: 64, r: 4},
      style: {fill: 'rgba(255,255,255,0.8)', stroke: '#cccccc', lineWidth: 1}},
    {type: 'text', z: 15, x: 702, y: 1740, style: {text: 'Wavelength [{i|μ}m]', align: 'center', verticalAlign: 'middle',
      font: '17px "DejaVu Sans"', fill: '#000', rich: {i: {fontStyle: 'italic', fontSize: 17, fontFamily: FONT, fill: '#000'}}}},
    {type: 'text', z: 15, x: 20, y: 862, rotation: Math.PI / 2, style: {text: 'Normalized Flux', align: 'center', verticalAlign: 'middle',
      font: '17px "DejaVu Sans"', fill: '#000'}}
  ]
});
</script></body></html>
